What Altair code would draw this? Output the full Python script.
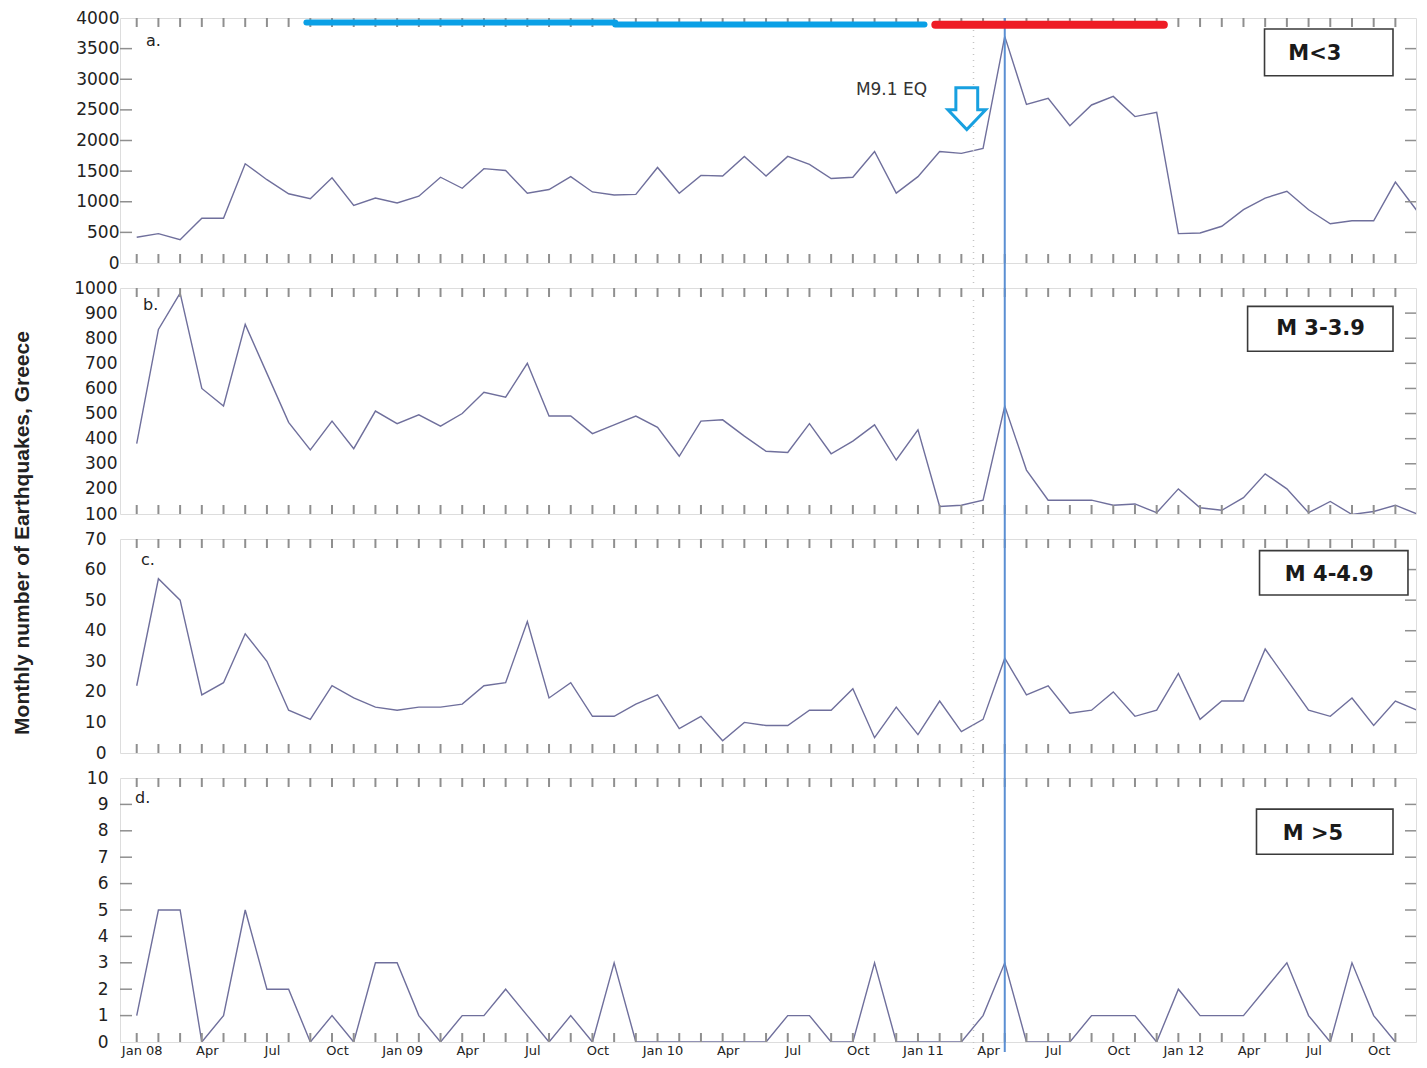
import altair as alt
import pandas as pd

# ---------------- data ----------------
months = list(range(60))  # Jan 2008 .. Dec 2012
tick_labels = ["Jan 08", "Apr", "Jul", "Oct", "Jan 09", "Apr", "Jul", "Oct",
               "Jan 10", "Apr", "Jul", "Oct", "Jan 11", "Apr", "Jul", "Oct",
               "Jan 12", "Apr", "Jul", "Oct"]

m_lt3 = [420, 480, 380, 730, 730, 1620, 1360, 1130, 1050, 1390,
         940, 1060, 980, 1090, 1400, 1220, 1540, 1510, 1140, 1200,
         1410, 1160, 1110, 1120, 1560, 1140, 1430, 1420, 1740, 1420,
         1740, 1610, 1380, 1400, 1820, 1140, 1410, 1820, 1790, 1870,
         3700, 2590, 2690, 2240, 2580, 2720, 2390, 2460, 480, 490,
         600, 870, 1060, 1170, 870, 640, 690, 690, 1320, 850]

m_3_39 = [380, 835, 980, 600, 530, 855, 660, 465, 355, 470,
          360, 510, 460, 495, 450, 500, 585, 565, 700, 490,
          490, 420, 455, 490, 445, 330, 470, 475, 410, 350,
          345, 460, 340, 390, 455, 315, 435, 130, 135, 155,
          530, 275, 155, 155, 155, 135, 140, 105, 200, 125,
          115, 165, 260, 200, 105, 150, 98, 110, 135, 100]

m_4_49 = [22, 57, 50, 19, 23, 39, 30, 14, 11, 22,
          18, 15, 14, 15, 15, 16, 22, 23, 43, 18,
          23, 12, 12, 16, 19, 8, 12, 4, 10, 9,
          9, 14, 14, 21, 5, 15, 6, 17, 7, 11,
          31, 19, 22, 13, 14, 20, 12, 14, 26, 11,
          17, 17, 34, 24, 14, 12, 18, 9, 17, 14]

m_gt5 = [1, 5, 5, 0, 1, 5, 2, 2, 0, 1,
         0, 3, 3, 1, 0, 1, 1, 2, 1, 0,
         1, 0, 3, 0, 0, 0, 0, 0, 0, 0,
         1, 1, 0, 0, 3, 0, 0, 0, 0, 1,
         3, 0, 0, 0, 1, 1, 1, 0, 2, 1,
         1, 1, 2, 3, 1, 0, 3, 1, 0]

panel_names = ["M<3", "M 3-3.9", "M 4-4.9", "M >5"]
panel_letters = ["a.", "b.", "c.", "d."]
eq_month = 40          # month of the vertical marker line
eq_arrow_month = 38.25
eq_label = "M9.1 EQ"

# ---------------- styling ----------------
XDOM = [-0.77, 58.95]
W = 1296
GAP = 25
FRAME = "#8a8a8a"
TICKC = "#8f8f8f"
LINEC = "#6f6f9c"
VLINEC = "#5b8fd3"
FONT = "DejaVu Sans"

xs = alt.Scale(domain=XDOM, nice=False, zero=False)


def panel(values, ydom, ylabels, h, lab_pad, left_ticks, right_ticks, gap,
          letter, letter_xy, box, box_text, text_xy, bottom_axis=False, extra=None):
    ys = alt.Scale(domain=ydom, nice=False, zero=False)
    df = pd.DataFrame({"m": months[:len(values)], "v": values})
    if bottom_axis:
        names = [""] * 60
        for k, lab in enumerate(tick_labels):
            names[3 * k] = lab
        expr = "[" + ",".join("'%s'" % s for s in names) + "][datum.value]"
        xaxis = alt.Axis(values=list(range(0, 60, 3)), labelExpr=expr, ticks=False,
                         domain=False, grid=False, title=None, labelFont=FONT,
                         labelFontSize=13, labelPadding=2, labelOffset=5,
                         labelColor="#222222", labelFlush=False, labelOverlap=False)
    else:
        xaxis = alt.Axis(labels=False, ticks=False, domain=False, grid=False, title=None)
    yaxis = alt.Axis(values=ylabels, format="d", ticks=False, domain=False, grid=False,
                     title=None, labelFont=FONT, labelFontSize=17, labelColor="#222222",
                     labelPadding=lab_pad, labelOverlap=False, labelFlush=False)

    def X(f):
        return alt.X(f, scale=xs, axis=xaxis)

    def Y(f):
        return alt.Y(f, scale=ys, axis=yaxis)

    line = alt.Chart(df).mark_line(color=LINEC, strokeWidth=1.4, clip=True).encode(
        x=X("m:Q"), y=Y("v:Q"))

    tdf = pd.DataFrame({"m": months[:59]})
    top_t = alt.Chart(tdf).mark_rule(color=TICKC, strokeWidth=2).encode(
        x=X("m:Q"), y=alt.value(0), y2=alt.value(9))
    bot_t = alt.Chart(tdf).mark_rule(color=TICKC, strokeWidth=2).encode(
        x=X("m:Q"), y=alt.value(h - 9), y2=alt.value(h))
    layers = [line, top_t, bot_t]
    if left_ticks:
        ldf = pd.DataFrame({"t": left_ticks})
        layers.append(alt.Chart(ldf).mark_rule(color=TICKC, strokeWidth=1.5).encode(
            y=Y("t:Q"), x=alt.value(0), x2=alt.value(12)))
    if right_ticks:
        rdf = pd.DataFrame({"t": right_ticks})
        layers.append(alt.Chart(rdf).mark_rule(color=TICKC, strokeWidth=1.5).encode(
            y=Y("t:Q"), x=alt.value(W - 11), x2=alt.value(W)))

    # faint dotted line and the blue marker line
    ddf = pd.DataFrame({"m": [38.56]})
    layers.append(alt.Chart(ddf).mark_rule(color="#c4c4c4", strokeWidth=1.5,
                                           strokeDash=[1, 5]).encode(
        x=X("m:Q"), y=alt.value(12), y2=alt.value(h + gap)))
    vdf = pd.DataFrame({"m": [eq_month]})
    layers.append(alt.Chart(vdf).mark_rule(color=VLINEC, strokeWidth=2).encode(
        x=X("m:Q"), y=alt.value(0), y2=alt.value(h + gap)))

    # panel letter
    ltdf = pd.DataFrame({"x": [letter_xy[0]], "y": [letter_xy[1]], "t": [letter]})
    layers.append(alt.Chart(ltdf).mark_text(align="left", baseline="middle", font=FONT,
                                            fontSize=16, color="#222222").encode(
        x=X("x:Q"), y=Y("y:Q"), text="t:N"))

    # label box
    bdf = pd.DataFrame({"x1": [box[0]], "x2": [box[1]], "y1": [box[2]], "y2": [box[3]]})
    layers.append(alt.Chart(bdf).mark_rect(fill="white", stroke="#3a3a3a",
                                           strokeWidth=1.6).encode(
        x=X("x1:Q"), x2="x2:Q", y=Y("y1:Q"), y2="y2:Q"))
    btdf = pd.DataFrame({"x": [text_xy[0]], "y": [text_xy[1]], "t": [box_text]})
    layers.append(alt.Chart(btdf).mark_text(align="center", baseline="middle", font=FONT,
                                            fontSize=21, fontWeight="bold",
                                            color="#1a1a1a").encode(
        x=X("x:Q"), y=Y("y:Q"), text="t:N"))
    if extra:
        layers.extend(extra(X, Y))
    return alt.layer(*layers).properties(width=W, height=h)


ARROW = "M-0.52,-1 L0.52,-1 L0.52,0.05 L0.9,0.05 L0,1 L-0.9,0.05 L-0.52,0.05 Z"


def extra_a(X, Y):
    bars = pd.DataFrame({"x1": [7.82, 22.05, 36.8], "x2": [22.05, 36.3, 47.33],
                         "y": [3925, 3895, 3890], "c": ["#0aa0e6", "#0aa0e6", "#ee1c25"],
                         "w": [6, 6, 8]})
    bar = alt.Chart(bars).mark_rule(strokeCap="round").encode(
        x=X("x1:Q"), x2="x2:Q", y=Y("y:Q"),
        color=alt.Color("c:N", scale=None),
        strokeWidth=alt.StrokeWidth("w:Q", scale=None))
    tdf = pd.DataFrame({"x": [33.14], "y": [2829], "t": [eq_label]})
    txt = alt.Chart(tdf).mark_text(align="left", baseline="middle", font=FONT, fontSize=17,
                                   color="#333333").encode(
        x=X("x:Q"), y=Y("y:Q"), text="t:N")
    adf = pd.DataFrame({"x": [eq_arrow_month], "y": [2520]})
    arr = alt.Chart(adf).mark_point(shape=ARROW, size=1764, filled=True, fill="white",
                                    stroke="#18a0e0", strokeWidth=3, opacity=1).encode(
        x=X("x:Q"), y=Y("y:Q"))
    return [bar, txt, arr]


pa = panel(m_lt3, [0, 4000], list(range(0, 4001, 500)), 245, 1,
           list(range(500, 4000, 500)), list(range(500, 4000, 500)), GAP,
           panel_letters[0], (0.43, 3626), (51.97, 57.89, 3821, 3057), panel_names[0],
           (54.29, 3415), extra=extra_a)
pb = panel(m_3_39, [100, 1000], list(range(100, 1001, 100)), 226, 3,
           None, list(range(200, 1000, 100)), GAP,
           panel_letters[1], (0.29, 931), (51.19, 57.89, 927, 748), panel_names[1],
           (54.55, 836))
pc = panel(m_4_49, [0, 70], list(range(0, 71, 10)), 214, 14,
           None, list(range(10, 70, 10)), GAP,
           panel_letters[2], (0.2, 63), (51.74, 58.58, 66.2, 51.7), panel_names[2],
           (54.95, 58.2))
pd_ = panel(m_gt5, [0, 10], list(range(0, 11)), 264, 12,
            list(range(1, 10)), list(range(1, 10)), 10,
            panel_letters[3], (-0.08, 9.24), (51.6, 57.89, 8.82, 7.11), panel_names[3],
            (54.2, 7.87), bottom_axis=True)

chart = alt.vconcat(pa, pb, pc, pd_, spacing=GAP, bounds="flush").properties(
    title=alt.Title("Monthly number of Earthquakes, Greece", orient="left", anchor="middle",
                    font="Liberation Sans", fontSize=21, fontWeight="bold", color="#222222",
                    offset=40),
    padding={"left": 4, "top": 0, "right": 1, "bottom": 0},
).configure_view(stroke=FRAME, strokeWidth=1.5).configure(background="white")

chart.save("out.html", embed_options={"renderer": "svg", "actions": False})
